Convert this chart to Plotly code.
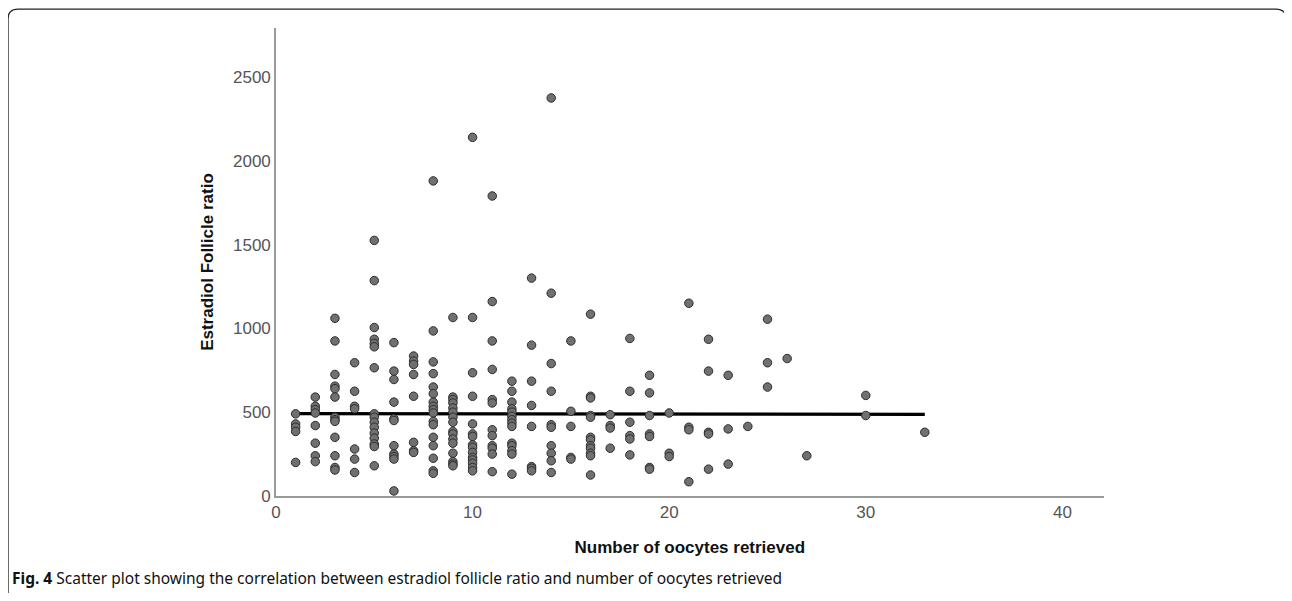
import plotly.graph_objects as go

# page is 1292x601 with an 8px body margin around the figure
PAGE_W, PAGE_H, BODY = 1292, 601, 8
W, H = PAGE_W - 2 * BODY, PAGE_H - 2 * BODY
Y_STRETCH = 610 / 601   # compensates the vertical squeeze seen in the snapshot
X_SHIFT = -2

# Number of oocytes retrieved (x) and Estradiol Follicle ratio (y), per column
col_x = [1, 2, 3, 4, 5, 6, 7, 8, 9, 10, 11, 12, 13, 14, 15, 16, 17, 18, 19, 20,
         21, 22, 23, 24, 25, 26, 27, 30, 33]
ratio_1 = [490, 430, 410, 385, 200]
ratio_2 = [590, 535, 515, 495, 420, 315, 240, 205]
ratio_3 = [1060, 925, 725, 655, 640, 590, 470, 455, 445, 350, 240, 170, 155]
ratio_4 = [795, 625, 535, 520, 280, 220, 140]
ratio_5 = [1525, 1285, 1005, 935, 910, 890, 765, 490, 470, 440, 410, 375, 345, 310, 295, 180]
ratio_6 = [915, 745, 695, 560, 460, 450, 300, 250, 235, 220, 30]
ratio_7 = [835, 805, 785, 725, 595, 320, 270, 260]
ratio_8 = [1880, 985, 800, 730, 650, 610, 560, 535, 515, 495, 445, 425, 350, 300, 225, 150, 135]
ratio_9 = [1065, 590, 575, 555, 525, 500, 470, 440, 385, 370, 340, 315, 255, 205, 190, 180]
ratio_10 = [2140, 1065, 735, 595, 430, 370, 355, 305, 290, 260, 230, 215, 195, 170, 150]
ratio_11 = [1790, 1160, 925, 755, 575, 555, 395, 360, 300, 285, 250, 145]
ratio_12 = [685, 625, 560, 520, 500, 475, 455, 435, 415, 315, 300, 270, 250, 130]
ratio_13 = [1300, 900, 685, 540, 415, 175, 165, 150]
ratio_14 = [2375, 1210, 790, 625, 425, 410, 300, 255, 210, 140]
ratio_15 = [925, 505, 415, 230, 220]
ratio_16 = [1085, 595, 585, 480, 470, 350, 335, 300, 285, 255, 240, 125]
ratio_17 = [485, 420, 405, 285]
ratio_18 = [940, 625, 440, 360, 340, 245]
ratio_19 = [720, 615, 480, 370, 355, 170, 160]
ratio_20 = [495, 255, 235]
ratio_21 = [1150, 410, 395, 85]
ratio_22 = [935, 745, 380, 370, 160]
ratio_23 = [720, 400, 190]
ratio_24 = [415]
ratio_25 = [1055, 795, 650]
ratio_26 = [820]
ratio_27 = [240]
ratio_30 = [600, 480]
ratio_33 = [380]

col_ratios = [ratio_1, ratio_2, ratio_3, ratio_4, ratio_5, ratio_6, ratio_7, ratio_8,
              ratio_9, ratio_10, ratio_11, ratio_12, ratio_13, ratio_14, ratio_15,
              ratio_16, ratio_17, ratio_18, ratio_19, ratio_20, ratio_21, ratio_22,
              ratio_23, ratio_24, ratio_25, ratio_26, ratio_27, ratio_30, ratio_33]

# Fit line
fit_x = [1, 33]
fit_y = [491, 487]

x_ticks = [0, 10, 20, 30, 40]
y_ticks = [0, 500, 1000, 1500, 2000, 2500]

xs, ys = [], []
for cx, vals in zip(col_x, col_ratios):
    for v in vals:
        xs.append(cx)
        ys.append(v)

fig = go.Figure()
fig.add_trace(go.Scatter(
    x=fit_x, y=fit_y, mode="lines",
    line=dict(color="black", width=3.2), hoverinfo="skip", showlegend=False))
fig.add_trace(go.Scatter(
    x=xs, y=ys, mode="markers",
    marker=dict(size=8.5, color="rgb(112,112,112)",
                line=dict(color="rgb(45,45,45)", width=1)),
    showlegend=False))


def px(x):
    """target x pixel -> paper fraction"""
    return (x + X_SHIFT - BODY) / W


def py(y):
    """target y pixel -> paper fraction"""
    return 1 - (y * Y_STRETCH - BODY) / H


# rounded frame around the figure
fl, ft, fr, fb, rad = 5, 9, 1288, 640, 10
path = (f"M {px(fl)},{py(fb)} L {px(fl)},{py(ft + rad)} "
        f"Q {px(fl)},{py(ft)} {px(fl + rad)},{py(ft)} "
        f"L {px(fr - rad)},{py(ft)} Q {px(fr)},{py(ft)} {px(fr)},{py(ft + rad)} "
        f"L {px(fr)},{py(fb)}")

fig.update_layout(
    width=W, height=H, autosize=False,
    margin=dict(l=0, r=0, t=0, b=0),
    paper_bgcolor="white", plot_bgcolor="white",
    font=dict(family="Liberation Sans, Arial, sans-serif", color="#333333", size=16),
    shapes=[dict(type="path", path=path, xref="paper", yref="paper",
                 line=dict(color="#222222", width=1.3))],
    annotations=[dict(
        x=px(7), y=py(579), xref="paper", yref="paper",
        xanchor="left", yanchor="middle", showarrow=False,
        text="<b>Fig. 4</b> Scatter plot showing the correlation between estradiol follicle ratio and number of oocytes retrieved",
        font=dict(family="Noto Sans, Open Sans, sans-serif", size=15.5, color="#111111"))],
    xaxis=dict(
        domain=[px(274), px(1105)], range=[0, 42.1],
        tickvals=x_ticks, ticktext=[str(t) for t in x_ticks],
        showgrid=False, zeroline=False, showline=True,
        linecolor="#9a9a9a", linewidth=1.5, ticks="",
        tickfont=dict(size=17, color="#555555"),
        title=dict(text="<b>Number of oocytes retrieved</b>", standoff=20,
                   font=dict(size=17, color="#111111")),
        anchor="y"),
    yaxis=dict(
        domain=[py(497), py(28)], range=[0, 2792],
        tickvals=y_ticks, ticktext=[str(t) for t in y_ticks],
        showgrid=False, zeroline=False, showline=True,
        linecolor="#9a9a9a", linewidth=1.5, ticks="",
        tickfont=dict(size=17, color="#555555"),
        title=dict(text="<b>Estradiol Follicle ratio</b>", standoff=15,
                   font=dict(size=17, color="#111111")),
        anchor="x"),
)

fig.write_html("out.html", config={"responsive": False})
